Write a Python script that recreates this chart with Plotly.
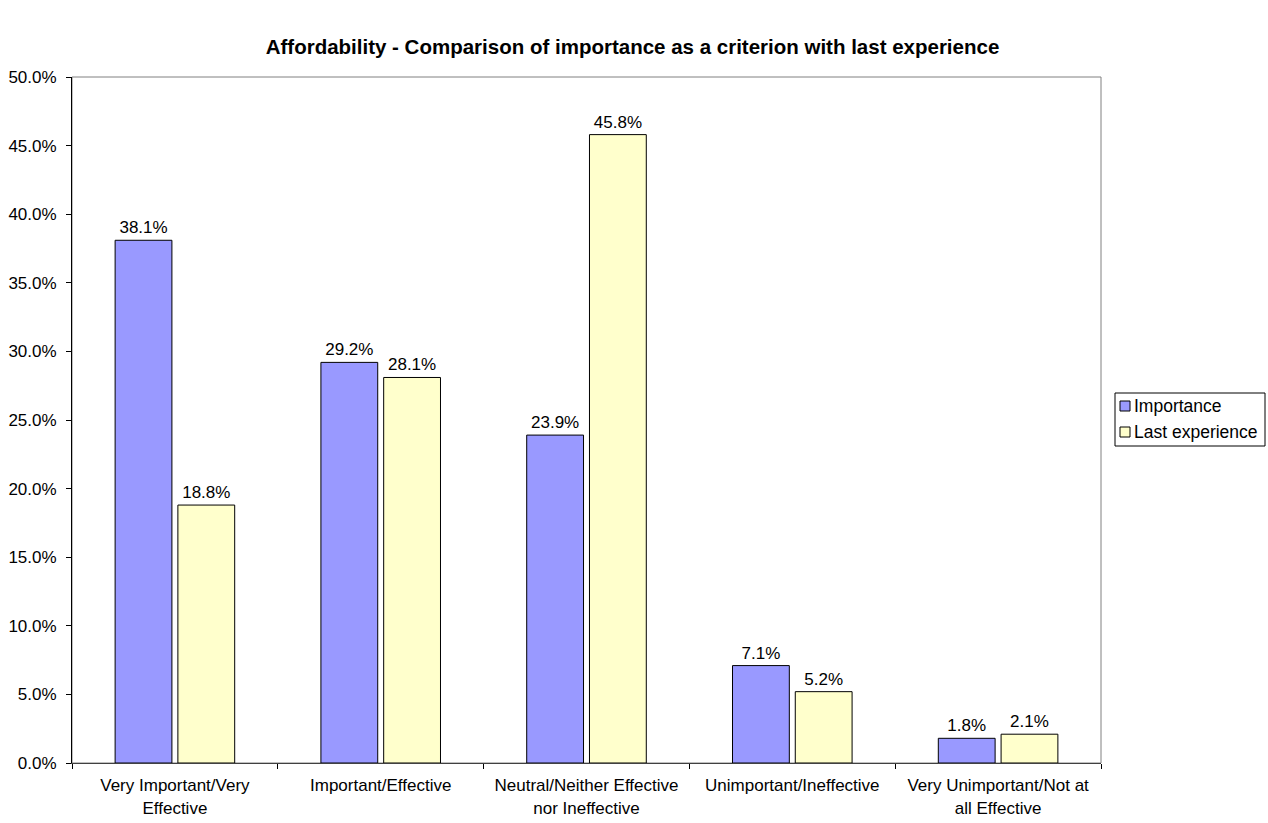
import plotly.graph_objects as go

categories = ["Very Important/Very<br>Effective", "Important/Effective",
              "Neutral/Neither Effective<br>nor Ineffective", "Unimportant/Ineffective",
              "Very Unimportant/Not at<br>all Effective"]
series_names = ["Importance", "Last experience"]
importance = [0.381, 0.292, 0.239, 0.071, 0.018]
last_experience = [0.188, 0.281, 0.458, 0.052, 0.021]
colors = ["#9999FF", "#FFFFCC"]

font = "Liberation Sans, Arial, sans-serif"
FS = 17

fig = go.Figure()
for name, vals, col in zip(series_names, [importance, last_experience], colors):
    fig.add_trace(go.Bar(name=name, x=categories, y=vals,
                         marker=dict(color=col, line=dict(color="black", width=1)),
                         text=[f"{v*100:.1f}%" for v in vals], textposition="outside",
                         textfont=dict(size=FS, color="black", family=font), cliponaxis=False))

# pixel -> paper helpers for the manual legend
L, R, T, B = 72, 1101, 77, 763
def px(x): return (x - L) / (R - L)
def py(y): return (B - y) / (B - T)

shapes = [dict(type="rect", xref="paper", yref="paper", x0=0, x1=1, y0=0, y1=1,
               line=dict(color="#808080", width=1), layer="below"),
          dict(type="rect", xref="paper", yref="paper", x0=px(1115), x1=px(1265),
               y0=py(446), y1=py(393), line=dict(color="black", width=1), fillcolor="white")]
annotations = []
for i, (name, col) in enumerate(zip(series_names, colors)):
    yc = 406 + i * 26
    shapes.append(dict(type="rect", xref="paper", yref="paper", x0=px(1120), x1=px(1130),
                       y0=py(yc + 5), y1=py(yc - 5), line=dict(color="black", width=1),
                       fillcolor=col))
    annotations.append(dict(text=name, xref="paper", yref="paper", x=px(1132), y=py(yc),
                            xanchor="left", yanchor="middle", showarrow=False,
                            font=dict(size=17.5, family=font, color="black")))

fig.update_layout(
    width=1268, height=823,
    margin=dict(l=L, r=1268 - R, t=T, b=823 - B),
    paper_bgcolor="white", plot_bgcolor="white",
    font=dict(family=font, size=FS, color="black"),
    title=dict(text="<b>Affordability - Comparison of importance as a criterion with last experience</b>",
               x=(262 + 1003) / 2 / 1268, xanchor="center", y=1 - 47 / 823, yanchor="middle",
               font=dict(size=20.5, family=font, color="black")),
    barmode="group", bargap=0.39, bargroupgap=0.095,
    showlegend=False,
    shapes=shapes, annotations=annotations,
)
fig.update_xaxes(showline=True, linecolor="#404040", linewidth=1, tickson="boundaries",
                 ticks="outside", ticklen=5, tickcolor="black", showgrid=False,
                 ticklabelstandoff=7,
                 tickfont=dict(size=FS, family=font), automargin=False)
fig.update_yaxes(range=[0, 0.5], dtick=0.05, tickformat=".1%", showline=True,
                 linecolor="black", linewidth=1, ticks="outside", ticklen=5,
                 tickcolor="black", showgrid=False, zeroline=False, ticklabelstandoff=6,
                 tickfont=dict(size=FS, family=font), automargin=False)

fig.write_html("out.html")
